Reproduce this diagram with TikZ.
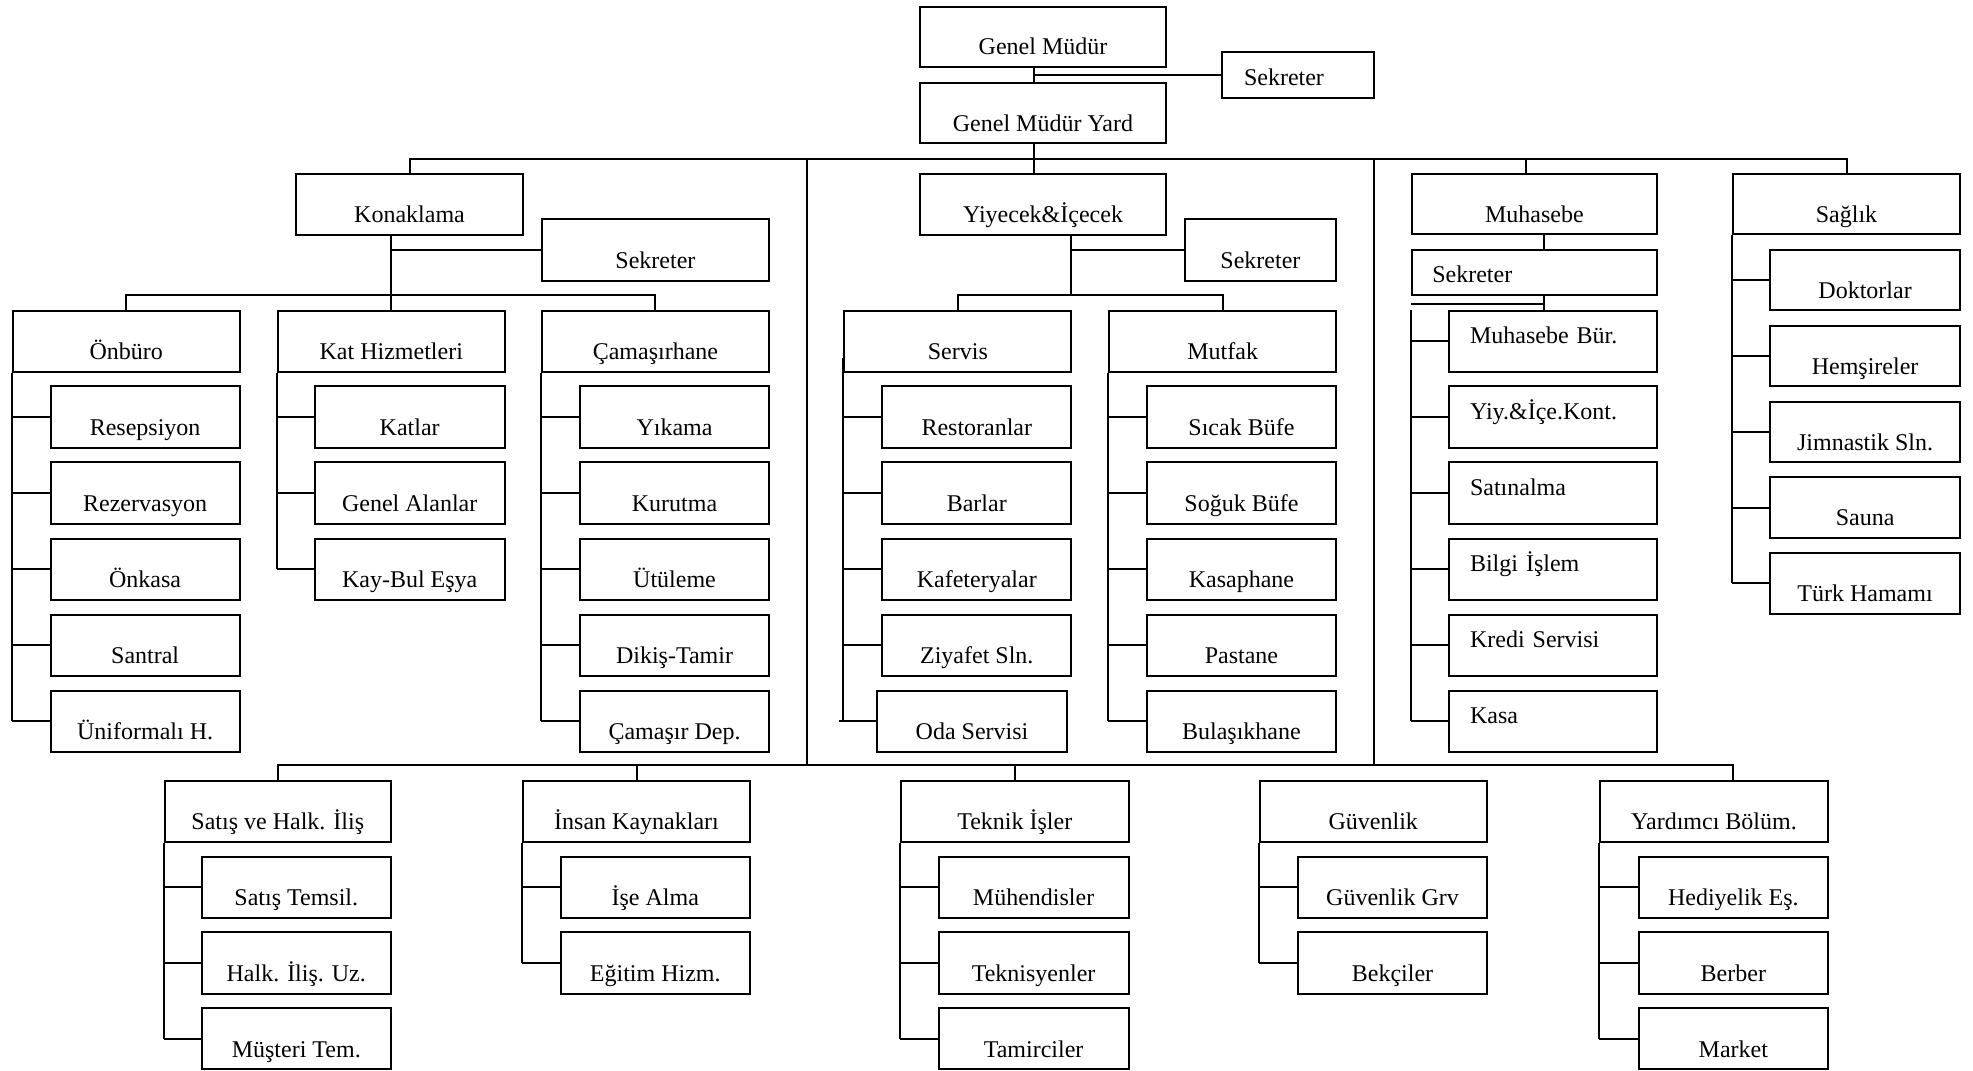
\documentclass[tikz,border=0pt]{standalone}
\usepackage{fontspec}
\setmainfont{Liberation Serif}

% centred label, baseline 12px above the bottom edge
\newcommand\ob[6]{%
  \pgfmathsetmacro\obw{(#4-#2)*0.5}%
  \pgfmathsetmacro\obh{(#5-#3)*0.5}%
  \pgfmathsetmacro\obt{(#5-#3-12)*0.5}%
  \node[orgbox, minimum width=\obw pt, minimum height=\obh pt,
        text height=\obt pt, text depth=6pt]
    (#1) at ({(#2+#4)/2},{(#3+#5)/2}) {#6};%
}
% left-aligned label starting at x=#6, baseline #7 px above the bottom edge
\newcommand\obl[8]{%
  \pgfmathsetmacro\obw{(#4-#2)*0.5}%
  \pgfmathsetmacro\obh{(#5-#3)*0.5}%
  \pgfmathsetmacro\obt{(#5-#3-#7)*0.5}%
  \pgfmathsetmacro\obd{#7*0.5}%
  \pgfmathsetmacro\obtw{(#2+#4-2*#6)*0.5}%
  \node[orgbox, align=left, text width=\obtw pt, minimum width=\obw pt,
        minimum height=\obh pt, text height=\obt pt, text depth=\obd pt]
    (#1) at ({(#2+#4)/2},{(#3+#5)/2}) {#8};%
}

\begin{document}
\begin{tikzpicture}[x=0.5pt,y=-0.5pt,
  orgbox/.style={draw, rectangle, line width=1pt, inner sep=0pt,
                 font=\fontsize{12}{14}\selectfont},
  link/.style={line width=1pt}]
\useasboundingbox (0,0) rectangle (1973,1070);

% ---------- top management ----------
\ob{gm}{920}{7}{1166}{67}{Genel Müdür}
\obl{gmsek}{1222}{52}{1374}{98}{1244}{12}{Sekreter}
\ob{gmy}{920}{83}{1166}{143}{Genel Müdür Yard}

% ---------- division heads ----------
\ob{kon}{296}{174}{523}{234.7}{Konaklama}
\ob{yiy}{920}{174}{1166}{234.7}{Yiyecek\&İçecek}
\ob{muh}{1411.5}{174}{1657.2}{234}{Muhasebe}
\ob{sag}{1733}{174}{1960}{234}{Sağlık}

\ob{konsek}{541.8}{219.4}{769}{280.7}{Sekreter}
\ob{yiysek}{1184.6}{219.3}{1336.2}{280.5}{Sekreter}
\obl{muhsek}{1411.5}{249.5}{1657.2}{294.5}{1432.3}{12}{Sekreter}

% ---------- department heads ----------
\ob{onb}{12.8}{310.6}{239.8}{371.6}{Önbüro}
\ob{kat}{278}{310.6}{504.6}{371.6}{Kat Hizmetleri}
\ob{cam}{541.8}{310.6}{769}{371.6}{Çamaşırhane}
\ob{srv}{844.4}{310.6}{1071.3}{371.6}{Servis}
\ob{mtf}{1109.2}{310.6}{1336.2}{371.6}{Mutfak}

% Önbüro units
\ob{onb1}{50.5}{386.4}{239.8}{447.6}{Resepsiyon}
\ob{onb2}{50.5}{462.4}{239.8}{523.6}{Rezervasyon}
\ob{onb3}{50.5}{538.5}{239.8}{599.7}{Önkasa}
\ob{onb4}{50.5}{614.5}{239.8}{675.7}{Santral}
\ob{onb5}{50.5}{690.6}{239.8}{751.8}{Üniformalı H.}

% Kat Hizmetleri units
\ob{kat1}{314.8}{386.4}{504.6}{447.6}{Katlar}
\ob{kat2}{314.8}{462.4}{504.6}{523.6}{Genel Alanlar}
\ob{kat3}{314.8}{538.5}{504.6}{599.7}{Kay-Bul Eşya}

% Çamaşırhane units
\ob{cam1}{580}{386.4}{769}{447.6}{Yıkama}
\ob{cam2}{580}{462.4}{769}{523.6}{Kurutma}
\ob{cam3}{580}{538.5}{769}{599.7}{Ütüleme}
\ob{cam4}{580}{614.5}{769}{675.7}{Dikiş-Tamir}
\ob{cam5}{580}{690.6}{769}{751.8}{Çamaşır Dep.}

% Servis units
\ob{srv1}{882.3}{386.4}{1071.3}{447.6}{Restoranlar}
\ob{srv2}{882.3}{462.4}{1071.3}{523.6}{Barlar}
\ob{srv3}{882.3}{538.5}{1071.3}{599.7}{Kafeteryalar}
\ob{srv4}{882.3}{614.5}{1071.3}{675.7}{Ziyafet Sln.}
\ob{srv5}{877.3}{690.6}{1066.7}{751.8}{Oda Servisi}

% Mutfak units
\ob{mtf1}{1146.7}{386.4}{1336.2}{447.6}{Sıcak Büfe}
\ob{mtf2}{1146.7}{462.4}{1336.2}{523.6}{Soğuk Büfe}
\ob{mtf3}{1146.7}{538.5}{1336.2}{599.7}{Kasaphane}
\ob{mtf4}{1146.7}{614.5}{1336.2}{675.7}{Pastane}
\ob{mtf5}{1146.7}{690.6}{1336.2}{751.8}{Bulaşıkhane}

% Muhasebe units
\obl{mh1}{1449.3}{310.6}{1657.2}{371.6}{1470}{28}{Muhasebe Bür.}
\obl{mh2}{1449.3}{386.4}{1657.2}{447.6}{1470}{28}{Yiy.\&İçe.Kont.}
\obl{mh3}{1449.3}{462.4}{1657.2}{523.6}{1470}{28}{Satınalma}
\obl{mh4}{1449.3}{538.5}{1657.2}{599.7}{1470}{28}{Bilgi İşlem}
\obl{mh5}{1449.3}{614.5}{1657.2}{675.7}{1470}{28}{Kredi Servisi}
\obl{mh6}{1449.3}{690.6}{1657.2}{751.8}{1470}{28}{Kasa}

% Sağlık units
\ob{sg1}{1770.3}{250}{1959.8}{310.4}{Doktorlar}
\ob{sg2}{1770.3}{325.8}{1959.8}{386.2}{Hemşireler}
\ob{sg3}{1770.3}{401.5}{1959.8}{462}{Jimnastik Sln.}
\ob{sg4}{1770.3}{477.3}{1959.8}{537.7}{Sauna}
\ob{sg5}{1770.3}{553}{1959.8}{613.5}{Türk Hamamı}

% ---------- lower divisions ----------
\ob{sat}{164.5}{780.7}{391}{841.9}{Satış ve Halk. İliş}
\ob{ins}{523}{780.7}{750}{841.9}{İnsan Kaynakları}
\ob{tek}{901}{780.7}{1128.5}{841.9}{Teknik İşler}
\ob{guv}{1259.5}{780.7}{1487}{841.9}{Güvenlik}
\ob{yrd}{1600}{780.7}{1828}{841.9}{Yardımcı Bölüm.}

\ob{sat1}{201.5}{856.7}{391}{917.9}{Satış Temsil.}
\ob{sat2}{201.5}{932.4}{391}{993.6}{Halk. İliş. Uz.}
\ob{sat3}{201.5}{1008.1}{391}{1069.3}{Müşteri Tem.}

\ob{ins1}{560.6}{856.7}{750}{917.9}{İşe Alma}
\ob{ins2}{560.6}{932.4}{750}{993.6}{Eğitim Hizm.}

\ob{tek1}{938.7}{856.7}{1128.5}{917.9}{Mühendisler}
\ob{tek2}{938.7}{932.4}{1128.5}{993.6}{Teknisyenler}
\ob{tek3}{938.7}{1008.1}{1128.5}{1069.3}{Tamirciler}

\ob{guv1}{1298}{856.7}{1487}{917.9}{Güvenlik Grv}
\ob{guv2}{1298}{932.4}{1487}{993.6}{Bekçiler}

\ob{yrd1}{1638.7}{856.7}{1828}{917.9}{Hediyelik Eş.}
\ob{yrd2}{1638.7}{932.4}{1828}{993.6}{Berber}
\ob{yrd3}{1638.7}{1008.1}{1828}{1069.3}{Market}

% ---------- reference points for connector routing ----------
\coordinate (xgm) at (1034,0);
\coordinate (mainbar) at (0,158.7);
\coordinate (xmuh) at (1525.5,0);
\coordinate (divl) at (806.8,158.7);
\coordinate (divr) at (1374,158.7);
\coordinate (botbar) at (0,765);
\coordinate (xyard) at (1733,0);
\coordinate (subbar) at (0,295);
\coordinate (xyiy) at (1071.3,0);
\coordinate (xmuhs) at (1544,0);
\coordinate (muhy) at (0,304);
\coordinate (srvtop) at (842.7,358);
\coordinate (srvtick) at (839.3,0);

% ---------- connectors: top ----------
\draw[link] (gm.south -| xgm) -- (gmy.north -| xgm);
\draw[link] (gmsek.west) -- (gmsek.west -| xgm);
\draw[link] (gmy.south -| xgm) -- (yiy.north -| xgm);
\draw[link] (kon.north) -- (kon.north |- mainbar) -- (sag.north |- mainbar) -- (sag.north);
\draw[link] (muh.north -| xmuh) -- (mainbar -| xmuh);
\draw[link] (divl) -- (divl |- botbar);
\draw[link] (divr) -- (divr |- botbar);

% ---------- connectors: lower bar ----------
\draw[link] (sat.north) -- (sat.north |- botbar) -- (botbar -| xyard) -- (yrd.north -| xyard);
\draw[link] (ins.north) -- (ins.north |- botbar);
\draw[link] (tek.north) -- (tek.north |- botbar);

% ---------- Konaklama ----------
\draw[link] (kon.south -| kat.north) -- (kat.north);
\draw[link] (konsek.west) -- (konsek.west -| kat.north);
\draw[link] (onb.north) -- (onb.north |- subbar) -- (cam.north |- subbar) -- (cam.north);

\draw[link] (onb.south west) -- (onb.south west |- onb5.west);
\foreach \c in {onb1,onb2,onb3,onb4,onb5}
  \draw[link] (\c.west) -- (\c.west -| onb.south west);
\draw[link] (kat.south west) -- (kat.south west |- kat3.west);
\foreach \c in {kat1,kat2,kat3}
  \draw[link] (\c.west) -- (\c.west -| kat.south west);
\draw[link] (cam.south west) -- (cam.south west |- cam5.west);
\foreach \c in {cam1,cam2,cam3,cam4,cam5}
  \draw[link] (\c.west) -- (\c.west -| cam.south west);

% ---------- Yiyecek & İçecek ----------
\draw[link] (yiy.south -| xyiy) -- (subbar -| xyiy);
\draw[link] (yiysek.west) -- (yiysek.west -| xyiy);
\draw[link] (srv.north) -- (srv.north |- subbar) -- (mtf.north |- subbar) -- (mtf.north);

\draw[link] (srvtop) -- (srvtop |- srv5.west);
\foreach \c in {srv1,srv2,srv3,srv4}
  \draw[link] (\c.west) -- (\c.west -| srvtop);
\draw[link] (srv5.west) -- (srv5.west -| srvtick);
\draw[link] (mtf.south west) -- (mtf.south west |- mtf5.west);
\foreach \c in {mtf1,mtf2,mtf3,mtf4,mtf5}
  \draw[link] (\c.west) -- (\c.west -| mtf.south west);

% ---------- Muhasebe ----------
\draw[link] (muh.south -| xmuhs) -- (muhsek.north -| xmuhs);
\draw[link] (muhsek.south -| xmuhs) -- (mh1.north -| xmuhs);
\draw[link] (muhy -| muhsek.west) -- (muhy -| xmuhs);
\draw[link] (mh1.north -| muhsek.west) -- (mh6.west -| muhsek.west);
\foreach \c in {mh1,mh2,mh3,mh4,mh5,mh6}
  \draw[link] (\c.west) -- (\c.west -| muhsek.west);

% ---------- Sağlık ----------
\draw[link] (sag.south west) -- (sag.south west |- sg5.west);
\foreach \c in {sg1,sg2,sg3,sg4,sg5}
  \draw[link] (\c.west) -- (\c.west -| sag.south west);

% ---------- lower divisions ----------
\draw[link] (sat.south west) -- (sat.south west |- sat3.west);
\foreach \c in {sat1,sat2,sat3}
  \draw[link] (\c.west) -- (\c.west -| sat.south west);
\draw[link] (ins.south west) -- (ins.south west |- ins2.west);
\foreach \c in {ins1,ins2}
  \draw[link] (\c.west) -- (\c.west -| ins.south west);
\draw[link] (tek.south west) -- (tek.south west |- tek3.west);
\foreach \c in {tek1,tek2,tek3}
  \draw[link] (\c.west) -- (\c.west -| tek.south west);
\draw[link] (guv.south west) -- (guv.south west |- guv2.west);
\foreach \c in {guv1,guv2}
  \draw[link] (\c.west) -- (\c.west -| guv.south west);
\draw[link] (yrd.south west) -- (yrd.south west |- yrd3.west);
\foreach \c in {yrd1,yrd2,yrd3}
  \draw[link] (\c.west) -- (\c.west -| yrd.south west);
\end{tikzpicture}
\end{document}
